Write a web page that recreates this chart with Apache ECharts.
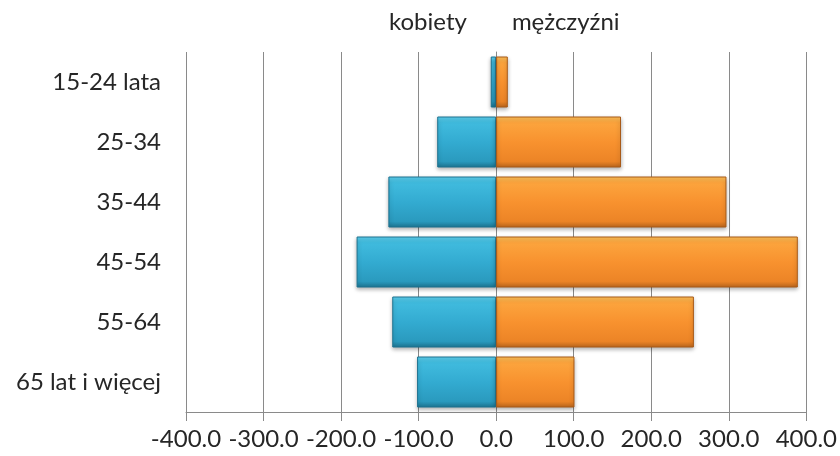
<!DOCTYPE html>
<html>
<head>
<meta charset="utf-8">
<script src="https://cdn.jsdelivr.net/npm/echarts@6/dist/echarts.min.js"></script>
<style>
html,body{margin:0;padding:0;background:#fff;}
#chart{width:840px;height:456px;}
</style>
</head>
<body>
<div id="chart"></div>
<script>
const categories = ['15-24 lata', '25-34', '35-44', '45-54', '55-64', '65 lat i więcej'];
const seriesNames = ['kobiety', 'mężczyźni'];
const kobiety = [-7, -76, -139, -180, -134, -102];
const mezczyzni = [15, 161, 297, 389, 255, 101];
const xTicks = [-400, -300, -200, -100, 0, 100, 200, 300, 400];

const FONT = 'Lato, "Open Sans", sans-serif';
const FS = 24;

const chart = echarts.init(document.getElementById('chart'));
const blueGrad = new echarts.graphic.LinearGradient(0, 0, 0, 1, [
  {offset: 0, color: '#5fd2f0'},
  {offset: 0.12, color: '#40bbde'},
  {offset: 0.5, color: '#33abd1'},
  {offset: 0.88, color: '#2a9abe'},
  {offset: 1, color: '#1d7390'}
]);
const orangeGrad = new echarts.graphic.LinearGradient(0, 0, 0, 1, [
  {offset: 0, color: '#ffc25a'},
  {offset: 0.12, color: '#fca43d'},
  {offset: 0.5, color: '#f8922f'},
  {offset: 0.88, color: '#ec8426'},
  {offset: 1, color: '#b9651d'}
]);

chart.setOption({
  animation: false,
  legend: {
    data: seriesNames,
    top: 5,
    left: 383,
    itemWidth: 0,
    itemHeight: 0,
    itemGap: 44,
    icon: 'rect',
    textStyle: {fontFamily: FONT, fontSize: FS, color: '#262626', padding: [0,0,0,-5]}
  },
  grid: {left: 186, right: 32, top: 52, bottom: 44, containLabel: false},
  xAxis: {
    type: 'value',
    min: -400, max: 400, interval: 100,
    axisLine: {show: true, lineStyle: {color: '#8a8a8a', width: 1}},
    axisTick: {show: true, length: 9, lineStyle: {color: '#8a8a8a'}},
    splitLine: {show: true, lineStyle: {color: '#8a8a8a', width: 1}},
    axisLabel: {
      margin: 15, fontFamily: FONT, fontSize: FS, color: '#262626',
      formatter: v => xTicks.includes(v) ? v.toFixed(1) : ''
    }
  },
  yAxis: {
    type: 'category',
    data: categories,
    inverse: true,
    axisLine: {show: true, lineStyle: {color: '#8a8a8a', width: 1}},
    axisTick: {show: false},
    axisLabel: {margin: 25, fontFamily: FONT, fontSize: FS, color: '#262626'}
  },
  series: [
    {
      name: seriesNames[0], type: 'bar', data: kobiety,
      barCategoryGap: '15%', barGap: '-100%',
      itemStyle: {color: blueGrad, borderColor: '#1d7390', borderWidth: 1,
        shadowColor: 'rgba(0,0,0,0.3)', shadowBlur: 4, shadowOffsetY: 2}
    },
    {
      name: seriesNames[1], type: 'bar', data: mezczyzni,
      barCategoryGap: '15%', barGap: '-100%',
      itemStyle: {color: orangeGrad, borderColor: '#a85a18', borderWidth: 1,
        shadowColor: 'rgba(0,0,0,0.3)', shadowBlur: 4, shadowOffsetY: 2}
    }
  ]
});
</script>
</body>
</html>
